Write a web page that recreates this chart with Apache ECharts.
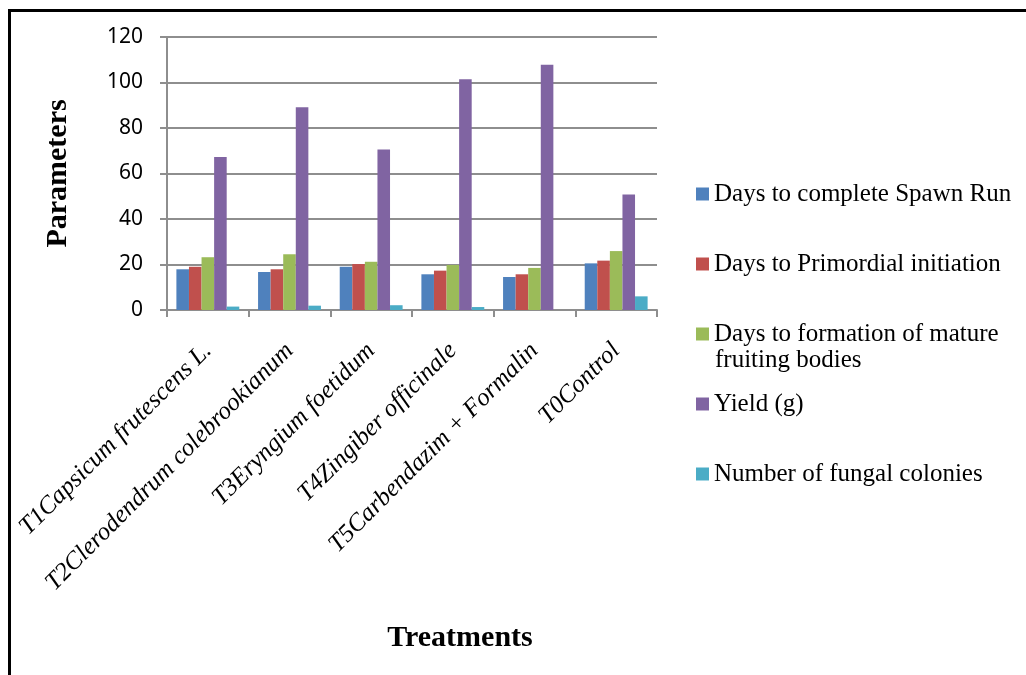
<!DOCTYPE html>
<html>
<head>
<meta charset="utf-8">
<script src="https://cdn.jsdelivr.net/npm/echarts@6/dist/echarts.min.js"></script>
<style>html,body{margin:0;padding:0;background:#fff;}#c{width:1026px;height:675px;}</style>
</head>
<body>
<div id="c"></div>
<script>
const categories = ["T1Capsicum frutescens L.", "T2Clerodendrum colebrookianum", "T3Eryngium foetidum", "T4Zingiber officinale", "T5Carbendazim + Formalin", "T0Control"];
const spawnRun = [17.9, 16.7, 19.0, 15.7, 14.5, 20.5];
const primordial = [19.0, 17.9, 20.2, 17.3, 15.7, 21.7];
const matureFruiting = [23.2, 24.5, 21.2, 19.8, 18.5, 25.9];
const yieldG = [67.3, 89.1, 70.6, 101.4, 107.8, 50.8];
const fungalColonies = [1.5, 1.9, 2.1, 1.3, 0, 6.0];
const seriesNames = ["Days to complete Spawn Run", "Days to Primordial initiation", "Days to formation of mature fruiting bodies", "Yield (g)", "Number of fungal colonies"];
const yTicks = { min: 0, max: 120, interval: 20 };

const colors = ['#4F81BD', '#C0504D', '#9BBB59', '#8064A2', '#4BACC6'];
const seriesData = [spawnRun, primordial, matureFruiting, yieldG, fungalColonies];
const SERIF = '"Liberation Serif", "Times New Roman", serif';
const GRAY = '#8e8e8e';

const chart = echarts.init(document.getElementById('c'));
const legendTops = [194, 264, 334, 404, 474];
const legends = seriesNames.map((n, i) => ({
  orient: 'vertical',
  left: 696,
  top: legendTops[i] - 13.5,
  itemWidth: 13, itemHeight: 13, itemGap: 6,
  icon: 'rect',
  data: [n],
  formatter: i === 2 ? 'Days to formation of mature' : n,
  textStyle: { fontFamily: SERIF, fontSize: 25, color: '#000', lineHeight: 27 },
  padding: 0
}));

chart.setOption({
  animation: false,
  color: colors,
  graphic: [{
    type: 'rect', silent: true,
    shape: { x: 9.5, y: 10.5, width: 1200, height: 800 },
    style: { fill: 'none', stroke: '#000', lineWidth: 3 }
  }, {
    type: 'text', silent: true,
    left: 715, top: 348,
    style: { text: 'fruiting bodies', font: '25px ' + SERIF, fill: '#000' }
  }],
  grid: { left: 167, right: 369, top: 37, bottom: 365, containLabel: false },
  legend: legends,
  xAxis: {
    type: 'category',
    data: categories,
    name: 'Treatments',
    nameLocation: 'middle',
    nameGap: 313,
    nameTextStyle: { fontFamily: SERIF, fontWeight: 'bold', fontSize: 30, color: '#000', padding: [0, 0, 0, 96] },
    axisLine: { lineStyle: { color: GRAY, width: 2 } },
    axisTick: { show: true, alignWithLabel: false, length: 7, lineStyle: { color: GRAY, width: 2 } },
    axisLabel: {
      interval: 0, rotate: 45, margin: 37,
      fontFamily: SERIF, fontStyle: 'italic', fontSize: 25, color: '#000'
    }
  },
  yAxis: {
    type: 'value',
    min: yTicks.min, max: yTicks.max, interval: yTicks.interval,
    name: 'Parameters',
    nameLocation: 'middle',
    nameGap: 94,
    nameRotate: 90,
    nameTextStyle: { fontFamily: SERIF, fontWeight: 'bold', fontSize: 30, color: '#000' },
    axisLine: { show: true, lineStyle: { color: GRAY, width: 2 } },
    axisTick: { show: true, length: 7, lineStyle: { color: GRAY, width: 2 } },
    axisLabel: { margin: 24, fontFamily: 'Noto Sans', fontSize: 21, color: '#000' },
    splitLine: { show: true, lineStyle: { color: GRAY, width: 2 } }
  },
  series: seriesNames.map((n, i) => ({
    name: n,
    type: 'bar',
    data: seriesData[i],
    barGap: '0%',
    barCategoryGap: '23%',
    itemStyle: { color: colors[i] }
  }))
});
</script>
</body>
</html>
